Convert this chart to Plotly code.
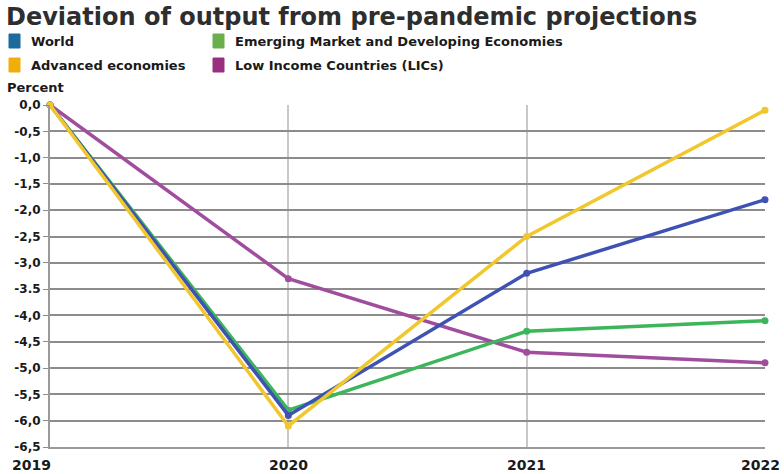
import plotly.graph_objects as go

years = [2019, 2020, 2021, 2022]
world = [0.0, -5.9, -3.2, -1.8]
emde = [0.0, -5.8, -4.3, -4.1]
advanced = [0.0, -6.1, -2.5, -0.1]
lics = [0.0, -3.3, -4.7, -4.9]

y_tickvals = [0, -0.5, -1, -1.5, -2, -2.5, -3, -3.5, -4, -4.5, -5, -5.5, -6, -6.5]
y_ticktext = ["0,0", "-0,5", "-1,0", "-1,5", "-2,0", "-2,5", "-3,0", "-3.5",
              "-4,0", "-4,5", "-5,0", "-5,5", "-6,0", "-6,5"]
x_ticktext = ["2019", "2020", "2021", "2022"]

legend_names = ["World", "Emerging Market and Developing Economies",
                "Advanced economies", "Low Income Countries (LICs)"]
legend_colors = ["#1d6b9c", "#6aaf4a", "#f0ae0a", "#99307e"]

# drawing order: yellow on top
series = [
    ("Low Income Countries (LICs)", lics, "#a14d9e"),
    ("Emerging Market and Developing Economies", emde, "#3db55b"),
    ("World", world, "#3f52b3"),
    ("Advanced economies", advanced, "#f1c72e"),
]

FONT = "DejaVu Sans"
L, R, T, B = 50, 19, 105, 27
PW, PH = 784 - L - R, 474 - T - B

fig = go.Figure()
for name, vals, col in series:
    fig.add_trace(go.Scatter(
        x=years, y=vals, name=name, mode="lines+markers",
        line=dict(color=col, width=3.5),
        marker=dict(color=col, size=7),
        cliponaxis=False, showlegend=False,
    ))

fig.update_layout(
    template="none",
    width=784, height=474,
    margin=dict(l=L, r=R, t=T, b=B),
    paper_bgcolor="white", plot_bgcolor="white",
    font=dict(family=FONT, color="#222222"),
    xaxis=dict(
        range=[2019, 2022], tickvals=years, showticklabels=False,
        automargin=False,
        showgrid=True, gridcolor="#c8c8c8", gridwidth=1.5,
        showline=True, linecolor="#9a9a9a", linewidth=2,
        zeroline=False, ticks="",
    ),
    yaxis=dict(
        range=[-6.5, 0], tickvals=y_tickvals, ticktext=y_ticktext,
        automargin=False,
        showgrid=True, gridcolor="#8c8c8c", gridwidth=1.5,
        showline=True, linecolor="#9a9a9a", linewidth=2,
        zeroline=False, ticks="outside", ticklen=5, tickcolor="#8c8c8c",
        tickfont=dict(family=FONT, size=12, color="#1a1a1a", weight="bold"),
    ),
)


def px_x(px):
    return (px - L) / PW


def px_y(py):
    return 1 + (T - py) / PH


# year labels under the axis; the outer two are nudged inside the page
shifts = [-19, 0, 0, -5]
for yr, lab, sh in zip(years, x_ticktext, shifts):
    fig.add_annotation(
        text=lab, x=yr, xref="x", y=px_y(465), yref="paper",
        xanchor="center", yanchor="middle", xshift=sh, showarrow=False,
        font=dict(family=FONT, size=14, color="#1a1a1a", weight="bold"),
    )

# title and unit label
fig.add_annotation(
    text="Deviation of output from pre-pandemic projections",
    xref="paper", yref="paper", x=px_x(4), y=px_y(17),
    xanchor="left", yanchor="middle", showarrow=False,
    font=dict(family=FONT, size=24, color="#2e2e2e", weight="bold"),
)
fig.add_annotation(
    text="Percent", xref="paper", yref="paper",
    x=px_x(5), y=px_y(88), xanchor="left", yanchor="middle",
    showarrow=False,
    font=dict(family=FONT, size=13, color="#1a1a1a", weight="bold"),
)

# legend: two rows of swatches with bold labels
legend_pos = [(9, 41), (213, 41), (9, 65), (213, 65)]
for (sx, sy), name, col in zip(legend_pos, legend_names, legend_colors):
    fig.add_shape(
        type="rect", xref="paper", yref="paper",
        x0=px_x(sx), x1=px_x(sx + 11), y0=px_y(sy + 7), y1=px_y(sy - 7),
        fillcolor=col, line=dict(color=col, width=1),
    )
    fig.add_annotation(
        text=name, xref="paper", yref="paper",
        x=px_x(sx + 20), y=px_y(sy),
        xanchor="left", yanchor="middle", showarrow=False,
        font=dict(family=FONT, size=13, color="#1a1a1a", weight="bold"),
    )

fig.write_html("out.html")
